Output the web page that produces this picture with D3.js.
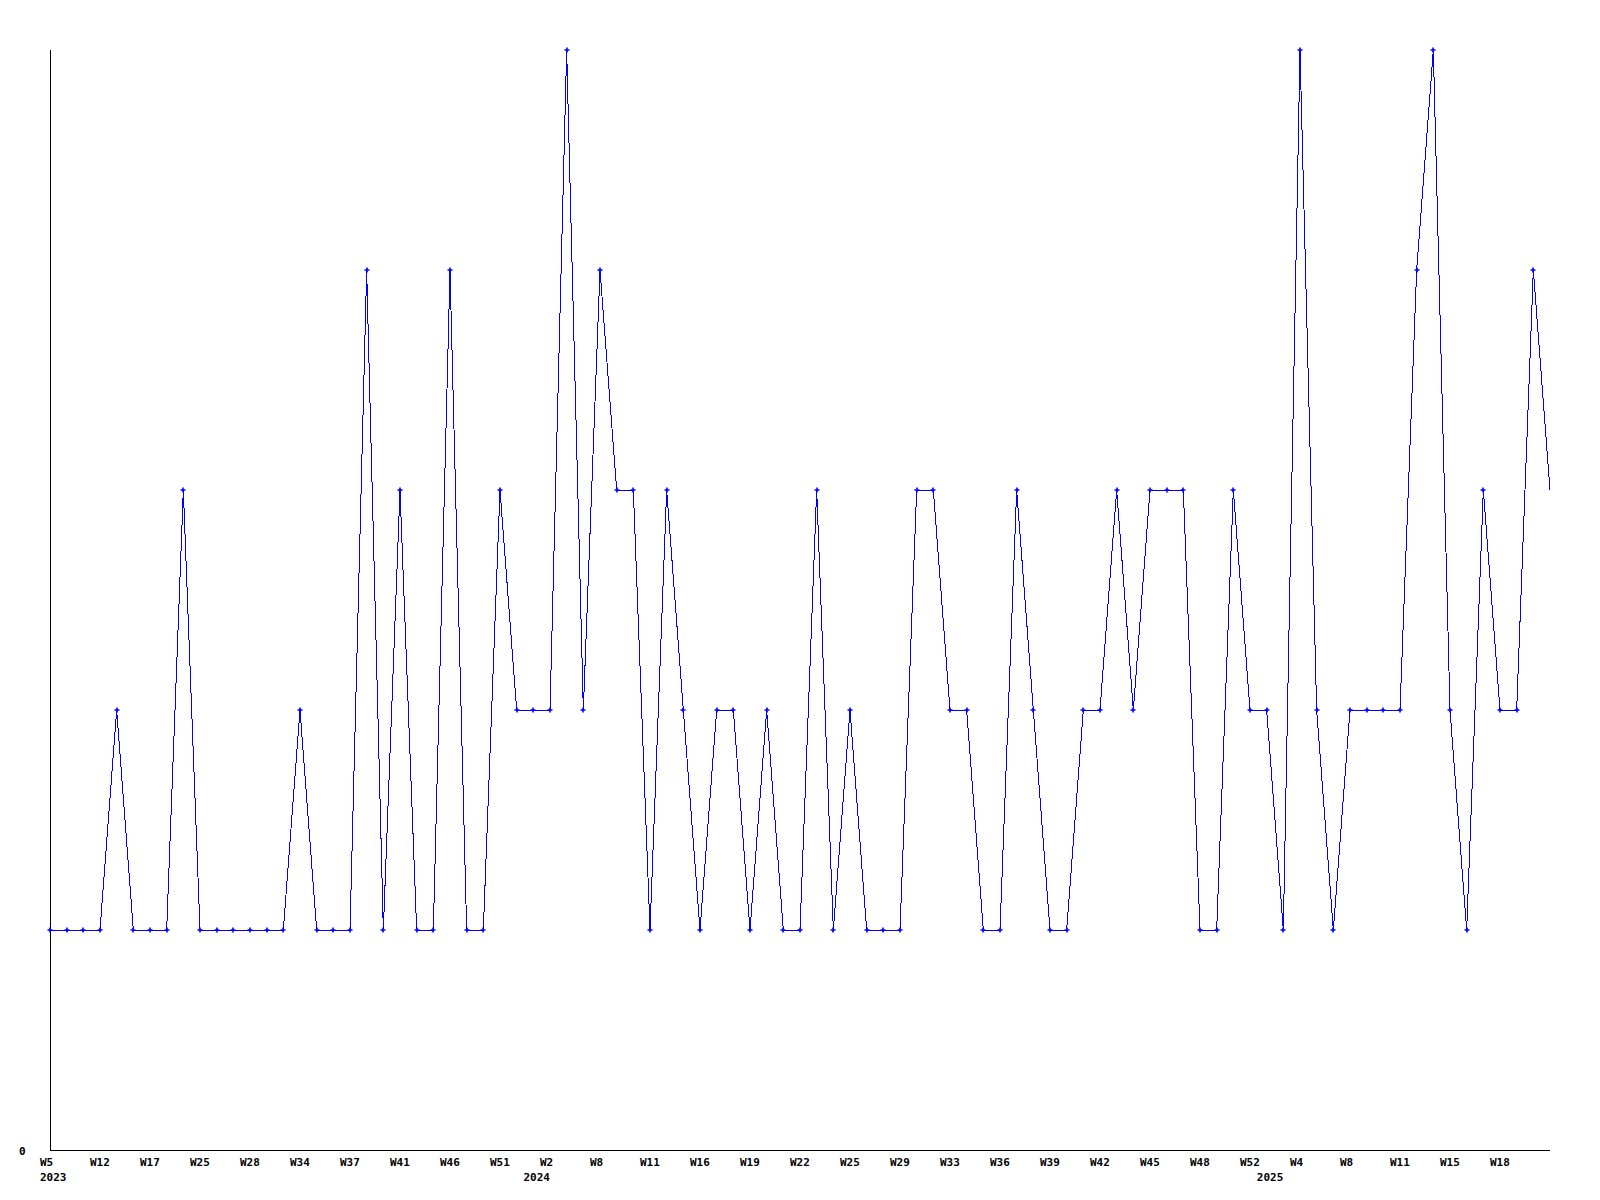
<!DOCTYPE html>
<html>
<head>
<meta charset="utf-8">
<script src="https://cdn.jsdelivr.net/npm/d3@7"></script>
<style>
  html, body { margin: 0; padding: 0; background: #fff; }
  svg { display: block; }
  text { font-family: "DejaVu Sans Mono", "Liberation Mono", monospace; font-weight: bold; font-size: 11px; fill: #000; }
</style>
</head>
<body>
<svg id="chart" width="1600" height="1200"></svg>
<script>
// ---- data ----
const values = [
  1,1,1,1,2,1,1,1,3,1,
  1,1,1,1,1,2,1,1,1,4,
  1,3,1,1,4,1,1,3,2,2,
  2,5,2,4,3,3,1,3,2,1,
  2,2,1,2,1,1,3,1,2,1,
  1,1,3,3,2,2,1,1,3,2,
  1,1,2,2,3,2,3,3,3,1,
  1,3,2,2,1,5,2,1,2,2,
  2,2,4,5,2,1,3,2,2,4,
  3
];
const tickIndex = [0,3,6,9,12,15,18,21,24,27,30,33,36,39,42,45,48,51,54,57,60,63,66,69,72,75,78,81,84,87];
const tickLabels = ["W5","W12","W17","W25","W28","W34","W37","W41","W46","W51",
  "W2","W8","W11","W16","W19","W22","W25","W29","W33","W36",
  "W39","W42","W45","W48","W52","W4","W8","W11","W15","W18"];
const yearIndex = [0, 30, 74];
const yearLabels = ["2023", "2024", "2025"];
const yMax = 5;

// ---- layout ----
const plotLeft = 50, plotRight = 1550, plotTop = 50, plotBottom = 1150;
const svg = d3.select("#chart");

const x = d3.scaleLinear().domain([0, values.length - 1]).range([plotLeft, plotRight]);
const y = d3.scaleLinear().domain([0, yMax]).range([plotBottom, plotTop]);

// axes
svg.append("line").attr("x1", plotLeft + 0.5).attr("x2", plotLeft + 0.5)
  .attr("y1", plotTop).attr("y2", plotBottom + 0.5)
  .attr("stroke", "#000").attr("stroke-width", 1).attr("shape-rendering", "crispEdges");
svg.append("line").attr("x1", plotLeft).attr("x2", plotRight)
  .attr("y1", plotBottom + 0.5).attr("y2", plotBottom + 0.5)
  .attr("stroke", "#000").attr("stroke-width", 1).attr("shape-rendering", "crispEdges");

// y label 0
svg.append("text").attr("x", 19).attr("y", y(0) + 5).text("0");

// x tick labels
svg.append("g").selectAll("text").data(tickIndex).join("text")
  .attr("x", d => x(d) - 10)
  .attr("y", 1166)
  .text((d, i) => tickLabels[i]);

// year labels (right-aligned at the first point of the year, kept inside the left edge)
const yg = svg.append("g");
yearIndex.forEach((d, i) => {
  const t = yg.append("text").attr("y", 1181).attr("text-anchor", "end").text(yearLabels[i]);
  const w = t.node().getComputedTextLength();
  t.attr("x", Math.max(x(d), x(0) - 10 + w));
});

// line
const line = d3.line().x((d, i) => x(i)).y(d => y(d));
svg.append("path").datum(values)
  .attr("d", line)
  .attr("fill", "none")
  .attr("stroke", "#0000ff")
  .attr("stroke-width", 1)
  .attr("shape-rendering", "crispEdges");

// markers (all but the last point)
svg.append("g").selectAll("path").data(values.slice(0, -1)).join("path")
  .attr("transform", (d, i) => `translate(${Math.round(x(i))},${Math.round(y(d))})`)
  .attr("d", "M-2.5,0H2.5M0,-2.5V2.5")
  .attr("stroke", "#0000ff")
  .attr("stroke-width", 1.6)
  .attr("fill", "none");
</script>
</body>
</html>
